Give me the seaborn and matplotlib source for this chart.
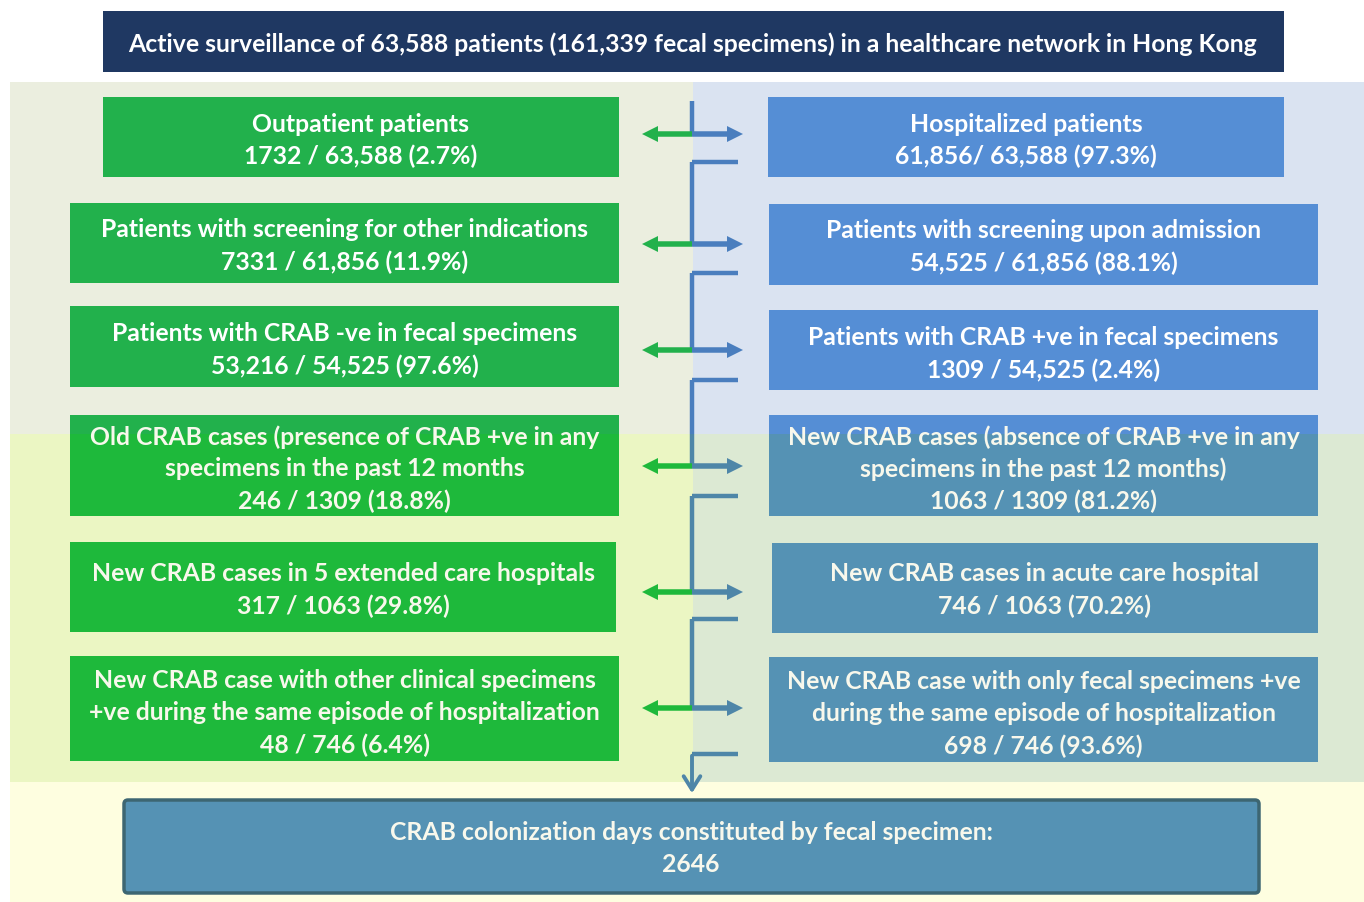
import matplotlib
matplotlib.use("Agg")
import matplotlib.pyplot as plt
import seaborn as sns
from matplotlib.patches import Rectangle, FancyBboxPatch

sns.set_theme(style="white")
plt.rcParams['font.family'] = ['Lato', 'DejaVu Sans']

# data: texts of the flow chart
title = "Active surveillance of 63,588 patients (161,339 fecal specimens) in a healthcare network in Hong Kong"

left_labels = [
    ["Outpatient patients"],
    ["Patients with screening for other indications"],
    ["Patients with CRAB -ve in fecal specimens"],
    ["Old CRAB cases (presence of CRAB +ve in any", "specimens in the past 12 months"],
    ["New CRAB cases in 5 extended care hospitals"],
    ["New CRAB case with other clinical specimens", "+ve during the same episode of hospitalization"],
]
left_counts = ["1732 / 63,588 (2.7%)", "7331 / 61,856 (11.9%)", "53,216 / 54,525 (97.6%)",
               "246 / 1309 (18.8%)", "317 / 1063 (29.8%)", "48 / 746 (6.4%)"]

right_labels = [
    ["Hospitalized patients"],
    ["Patients with screening upon admission"],
    ["Patients with CRAB +ve in fecal specimens"],
    ["New CRAB cases (absence of CRAB +ve in any", "specimens in the past 12 months)"],
    ["New CRAB cases in acute care hospital"],
    ["New CRAB case with only fecal specimens +ve", "during the same episode of hospitalization"],
]
right_counts = ["61,856/ 63,588 (97.3%)", "54,525 / 61,856 (88.1%)", "1309 / 54,525 (2.4%)",
                "1063 / 1309 (81.2%)", "746 / 1063 (70.2%)", "698 / 746 (93.6%)"]

final_lines = ["CRAB colonization days constituted by fecal specimen:", "2646"]

# layout (pixels)
left_boxes = [(103, 98, 619, 178), (70, 204, 619, 284), (70, 307, 619, 388),
              (70, 416, 619, 517), (70, 543, 616, 633), (70, 657, 619, 762)]
right_boxes = [(768, 98, 1284, 178), (769, 205, 1318, 286), (769, 311, 1318, 391),
               (769, 416, 1318, 517), (772, 544, 1318, 634), (769, 658, 1318, 763)]
left_text_y = [124, 230, 334, 437, 574, 681]
right_text_y = [124, 231, 338, 437, 574, 682]
arrow_y = [135, 245, 351, 467, 593, 709]
corner_y = [163, 274, 381, 497, 620, 755]
split = 435
cx = 692

C_TL, C_TR, C_BL, C_BR, C_BOT = "#EBEEDF", "#DAE3F1", "#EBF6C3", "#DCE9D3", "#FEFEE0"
G_TOP, G_BOT = "#22B14C", "#1EB93B"
B_TOP, B_BOT = "#558ED5", "#5592B4"
L_TOP, L_BOT = "#4A7EBE", "#4E86A8"

fig = plt.figure(figsize=(13.64, 9.03), dpi=100)
ax = fig.add_axes([0, 0, 1, 1])
ax.set_xlim(0, 1364)
ax.set_ylim(903, 0)
ax.axis('off')

def rect(x0, y0, x1, y1, c, z=1):
    ax.add_patch(Rectangle((x0, y0), x1 - x0, y1 - y0, facecolor=c, edgecolor='none', zorder=z))

rect(0, 0, 1364, 903, "white", 0)
rect(10, 83, cx + 1, split, C_TL)
rect(cx + 1, 83, 1364, split, C_TR)
rect(10, split, cx + 1, 783, C_BL)
rect(cx + 1, split, 1364, 783, C_BR)
rect(10, 783, 1364, 903, C_BOT)

fs = 17.8
lh = 32

rect(103, 12, 1284, 73, "#1F3862", 2)
ax.text(693, 44, title, ha='center', va='center', color='white', fontsize=fs,
        fontweight='bold', zorder=5)

def box(b, ctop, cbot):
    x0, y0, x1, y1 = b
    if y1 <= split:
        rect(x0, y0, x1, y1, ctop, 2)
    elif y0 >= split:
        rect(x0, y0, x1, y1, cbot, 2)
    else:
        rect(x0, y0, x1, split, ctop, 2)
        rect(x0, split, x1, y1, cbot, 2)

def lines(b, y_first, lbls, count):
    x0, y0, x1, y1 = b
    allt = lbls + [count]
    col = 'white' if y_first < split else '#F8F8EC'
    for k, t in enumerate(allt):
        ax.text((x0 + x1) / 2, y_first + k * lh, t, ha='center', va='center', color=col,
                fontsize=fs, fontweight='bold', zorder=5)

for i in range(6):
    box(left_boxes[i], G_TOP, G_BOT)
    box(right_boxes[i], B_TOP, B_BOT)
    lines(left_boxes[i], left_text_y[i], left_labels[i], left_counts[i])
    lines(right_boxes[i], right_text_y[i], right_labels[i], right_counts[i])

# connector lines
def vline(ya, yb):
    if yb <= split or ya >= split:
        ax.plot([cx, cx], [ya, yb], color=L_TOP if yb <= split else L_BOT, lw=3.2, zorder=3,
                solid_capstyle='butt')
    else:
        ax.plot([cx, cx], [ya, split], color=L_TOP, lw=3.2, zorder=3, solid_capstyle='butt')
        ax.plot([cx, cx], [split, yb], color=L_BOT, lw=3.2, zorder=3, solid_capstyle='butt')

vline(102, arrow_y[0])
for i in range(6):
    y = arrow_y[i]
    top = y < split
    gc = G_TOP if top else G_BOT
    bc = L_TOP if top else L_BOT
    ax.arrow(cx, y, -50, 0, width=5.5, head_width=16, head_length=16,
             length_includes_head=True, color=gc, lw=0, zorder=4)
    ax.arrow(cx, y, 51, 0, width=5.5, head_width=16, head_length=16,
             length_includes_head=True, color=bc, lw=0, zorder=4)
    yc = corner_y[i]
    ax.plot([cx, 738], [yc, yc], color=L_TOP if yc < split else L_BOT, lw=3.2, zorder=3,
            solid_capstyle='butt')
    if i < 5:
        vline(yc, arrow_y[i + 1])

ax.annotate('', xy=(cx, 797), xytext=(cx, corner_y[5] - 1),
            arrowprops=dict(arrowstyle='->,head_length=0.8,head_width=0.5', color=L_BOT, lw=2.8),
            zorder=4)

ax.add_patch(FancyBboxPatch((124, 801), 1135, 93, boxstyle="round,pad=0,rounding_size=4",
                            facecolor="#5592B4", edgecolor="#3D6672", lw=2.5, zorder=2))
for k, t in enumerate(final_lines):
    ax.text(691, 833 + k * lh, t, ha='center', va='center', color='#F8F8EC', fontsize=fs,
            fontweight='bold', zorder=5)

fig.savefig("out.png", dpi=100)
